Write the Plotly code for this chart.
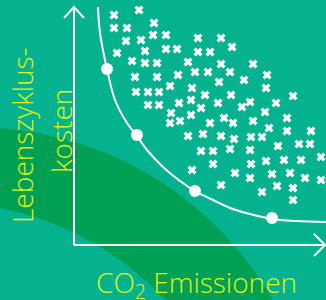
import numpy as np
import plotly.graph_objects as go

# ---- data (schematic units, origin at the axis corner) ----
# Pareto front (curve)
front_emissions = [2.4, 2.6, 3.3, 4.1, 5.3, 6.3, 7.3, 8.9, 10.6, 12.1, 13.9, 15.6, 17.2, 19.8, 22.2, 25.2]
front_costs = [23.8, 21.2, 17.6, 14.5, 12.2, 10.9, 9.5, 7.8, 6.4, 5.4, 4.5, 3.7, 3.2, 2.6, 2.4, 2.3]

# optimal designs (white dots on the front)
optimal_emissions = [3.3, 6.3, 12.1, 19.8]
optimal_costs = [17.6, 11.0, 5.4, 2.7]

# other evaluated designs (white crosses)
design_emissions = [
    4.0, 6.5, 4.0, 5.3, 8.0, 5.2, 6.7, 7.9, 9.2, 4.3, 5.8, 7.1, 7.1, 8.3, 9.2, 10.3,
    6.1, 8.3, 6.2, 7.4, 8.5, 7.4, 8.5, 12.4, 14.7, 12.4, 13.6, 15.8, 11.4, 14.7, 17.9,
    10.4, 12.1, 13.4, 15.6, 19.3, 17.0, 14.5, 9.6, 11.8, 19.2, 13.1, 15.7, 21.9, 10.5,
    11.7, 14.4, 17.6, 16.8, 20.2, 12.7, 9.7, 11.7, 19.1, 9.6, 10.6, 13.6, 15.0, 15.9,
    17.9, 21.3, 19.5, 21.3, 23.7, 11.4, 12.9, 14.7, 16.0, 17.7, 18.8, 20.4, 22.5, 23.6,
    12.7, 13.9, 15.6, 17.6, 24.7, 19.2, 21.0, 22.7, 11.8, 13.9, 17.7, 16.1, 17.6, 19.8,
    21.6, 23.1, 24.7, 14.7, 20.3, 21.9, 18.8, 21.9,
]
design_costs = [
    23.0, 23.5, 21.7, 21.7, 22.2, 20.4, 20.5, 21.0, 21.0, 19.2, 18.4, 19.4, 18.2, 18.2, 19.6, 19.6,
    16.8, 16.8, 15.3, 15.3, 15.3, 14.0, 14.0, 20.7, 20.7, 19.3, 19.3, 19.8, 18.3, 18.1, 18.1,
    17.0, 17.3, 17.3, 17.3, 17.0, 16.5, 16.3, 15.9, 15.7, 15.7, 15.0, 15.0, 14.9, 14.2,
    14.5, 14.2, 14.3, 13.8, 14.2, 13.7, 13.2, 13.0, 13.3, 12.2, 12.4, 12.2, 12.7, 12.2,
    12.4, 12.7, 11.7, 11.4, 11.4, 10.9, 11.1, 10.9, 10.6, 10.8, 10.8, 9.9, 10.1, 10.1,
    9.4, 9.4, 9.6, 9.5, 8.8, 8.4, 8.5, 8.5, 7.5, 8.1, 8.1, 7.2, 6.7, 7.1,
    7.2, 6.7, 6.5, 6.0, 5.9, 5.7, 5.3, 4.5,
]

x_label = "CO<sub>2</sub> Emissionen"
y_label_lines = ["Lebenszyklus-", "kosten"]

# ---- styling ----
BG = "#05b290"
BAND = "#00a054"
TXT = "#e2f10c"
FONT = "Open Sans"

W, H = 326, 300
X_RANGE = [-7.4, 25.2]
Y_RANGE = [-5.5, 24.5]
X_END, Y_END = 25.1, 23.8


def px_to_data(px, py):
    return (np.asarray(px) - 74) / 10.0, (245 - np.asarray(py)) / 10.0


# decorative darker band (two circular arcs, in pixel space)
phi = np.radians(np.linspace(95, 20, 60))
ox, oy = -24.4 + 342 * np.cos(phi), 469.4 - 342 * np.sin(phi)
ix, iy = -60 + 307.5 * np.cos(phi[::-1]), 509.6 - 307.5 * np.sin(phi[::-1])
bx, by = px_to_data(np.concatenate([ox, ix]), np.concatenate([oy, iy]))
band_path = "M " + " L ".join(f"{a:.3f},{b:.3f}" for a, b in zip(bx, by)) + " Z"

fig = go.Figure()

fig.add_trace(go.Scatter(
    x=design_emissions, y=design_costs, mode="markers",
    marker=dict(symbol="x", size=8, color="white", line=dict(width=0)),
    hoverinfo="skip", showlegend=False,
))
fig.add_trace(go.Scatter(
    x=front_emissions, y=front_costs, mode="lines",
    line=dict(color="white", width=2, shape="spline", smoothing=1.0),
    hoverinfo="skip", showlegend=False,
))
fig.add_trace(go.Scatter(
    x=optimal_emissions, y=optimal_costs, mode="markers",
    marker=dict(symbol="circle", size=12, color="white", line=dict(width=0)),
    hoverinfo="skip", showlegend=False,
))

shapes = [
    dict(type="path", path=band_path, xref="x", yref="y", fillcolor=BAND,
         line=dict(width=0), layer="below"),
    # axes
    dict(type="line", x0=0, y0=0, x1=0, y1=Y_END, xref="x", yref="y",
         line=dict(color="white", width=2)),
    dict(type="line", x0=0, y0=0, x1=X_END, y1=0, xref="x", yref="y",
         line=dict(color="white", width=2)),
    # open arrow heads
    dict(type="path", path=f"M -1.0,{Y_END-1.1} L 0,{Y_END} L 1.0,{Y_END-1.1}",
         xref="x", yref="y", line=dict(color="white", width=2)),
    dict(type="path", path=f"M {X_END-1.1},1.1 L {X_END},0 L {X_END-1.1},-1.1",
         xref="x", yref="y", line=dict(color="white", width=2)),
]

annotations = [
    dict(text=x_label, x=12.2, y=-3.9, xref="x", yref="y", showarrow=False,
         xanchor="center", yanchor="middle", font=dict(family=FONT, size=28, color=TXT, weight=300)),
    dict(text=y_label_lines[0], x=-5.2, y=11.0, xref="x", yref="y", showarrow=False,
         textangle=-90, xanchor="center", yanchor="middle",
         font=dict(family=FONT, size=28, color=TXT, weight=300)),
    dict(text=y_label_lines[1], x=-1.3, y=11.4, xref="x", yref="y", showarrow=False,
         textangle=-90, xanchor="center", yanchor="middle",
         font=dict(family=FONT, size=28, color=TXT, weight=300)),
]

fig.update_layout(
    width=W, height=H, autosize=False,
    margin=dict(l=0, r=0, t=0, b=0, pad=0),
    paper_bgcolor=BG, plot_bgcolor=BG,
    shapes=shapes, annotations=annotations,
    xaxis=dict(range=X_RANGE, visible=False, fixedrange=True),
    yaxis=dict(range=Y_RANGE, visible=False, fixedrange=True),
    showlegend=False,
)

fig.write_html("out.html", config={"displayModeBar": False},
               post_script="document.body.style.margin='0';document.body.style.overflow='hidden';")
